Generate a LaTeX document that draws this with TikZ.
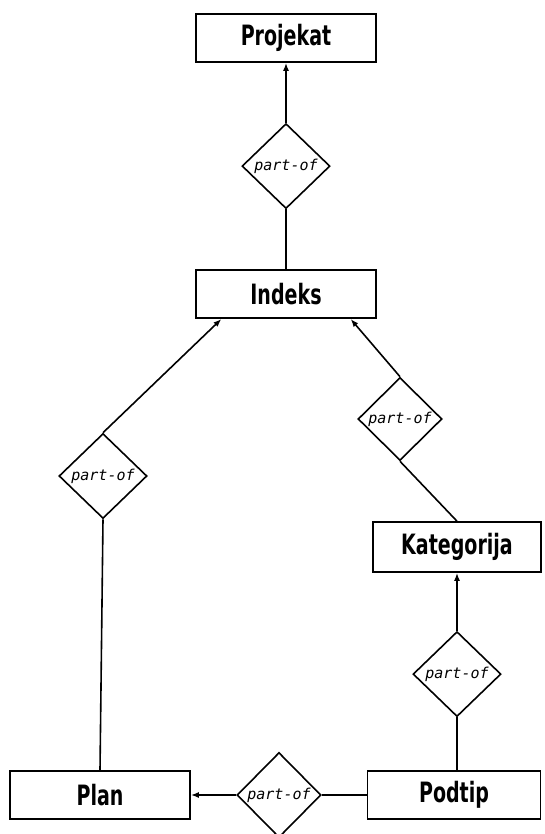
\documentclass[tikz,border=0pt]{standalone}
\usepackage{fontspec}
\usepackage{tikz}
\usetikzlibrary{arrows.meta,positioning,shapes.geometric}
\newfontfamily\entfont[FakeStretch=0.68]{DejaVu Sans}
\newfontfamily\relfont{DejaVu Sans Mono}

\begin{document}
\begin{tikzpicture}[
    x=1pt, y=-1pt,
    entity/.style={draw, rectangle, minimum width=180pt, minimum height=48pt, line width=1.6pt, inner sep=0pt, font=\entfont\bfseries\fontsize{28}{30}\selectfont},
    rel/.style={draw, diamond, minimum width=88pt, minimum height=85pt, inner sep=0pt, line width=1.6pt, font=\relfont\itshape\fontsize{15}{16}\selectfont},
    arr/.style={-{Latex[length=8pt,width=6pt]}, line width=1.6pt},
    ln/.style={line width=1.6pt},
]
    \useasboundingbox (0,0) rectangle (544,834);

    % Top column
    \node [entity] (projekat) at (286,38) {Projekat};
    \node [rel, below=60pt of projekat] (rel1) {part-of};
    \node [entity, below=60pt of rel1] (indeks) {Indeks};

    % Left branch
    \node [rel] (rel2) at (103,476) {part-of};
    \node [entity] (plan) at (100,795) {Plan};

    % Right branch
    \node [rel, minimum width=84pt, minimum height=83pt] (rel3) at (400,419) {part-of};
    \node [entity, minimum width=168pt, minimum height=50pt] (kategorija) at (457,547) {Kategorija};
    \node [rel, below=58pt of kategorija] (rel4) {part-of};
    \node [entity, minimum width=173pt] (podtip) at (454,795) {Podtip};

    % Bottom
    \node [rel, minimum width=84pt] (rel5) at (279,795) {part-of};

    % Connectors
    \draw [arr] (rel1.north) -- (projekat.south);
    \draw [ln] (rel1.south) -- (indeks.north);
    \draw [arr] (rel2.north) -- (indeks.201);
    \draw [ln] (rel2.south) -- (plan.north);
    \draw [arr] (rel3.north) -- (indeks.-21);
    \draw [ln] (rel3.south) -- (kategorija.north);
    \draw [arr] (rel4.north) -- (kategorija.south);
    \draw [ln] (rel4.south) -- (rel4.south |- podtip.north);
    \draw [ln] (podtip.west) -- (rel5.east);
    \draw [arr] (rel5.west) -- (plan.east);
\end{tikzpicture}
\end{document}
